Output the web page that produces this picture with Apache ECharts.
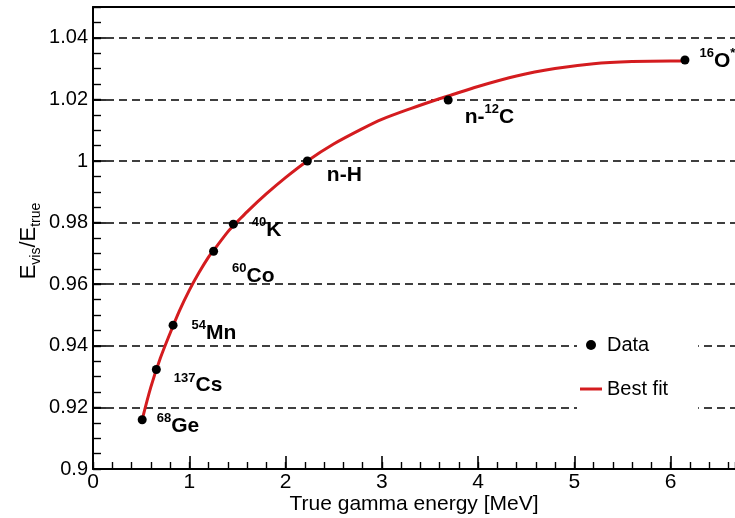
<!DOCTYPE html>
<html><head><meta charset="utf-8">
<script src="https://cdn.jsdelivr.net/npm/echarts@6/dist/echarts.min.js"></script>
<style>html,body{margin:0;padding:0;background:#fff}#c{width:735px;height:518px}</style>
</head><body><div id="c"></div>
<script>
// Data points
const energies = [0.511, 0.658, 0.832, 1.253, 1.458, 2.227, 3.69, 6.15];
const ratios   = [0.916, 0.9323, 0.9467, 0.9707, 0.9795, 1.000, 1.0198, 1.0328];
const sourceLabels = ['{s|68}{m|Ge}', '{s|137}{m|Cs}', '{s|54}{m|Mn}', '{s|60}{m|Co}',
                      '{s|40}{m|K}', '{m|n-H}', '{m|n-}{s|12}{m|C}', '{s|16}{m|O}{s|*}'];
// Best-fit curve samples
const fitX = [0.511, 0.6, 0.7, 0.8, 0.9, 1.0, 1.1, 1.2, 1.253, 1.4, 1.458, 1.5, 1.6, 1.8, 2.0, 2.227,
              2.5, 2.8, 3.0, 3.3, 3.56, 3.7, 4.0, 4.4, 4.8, 5.2, 5.6, 6.0, 6.13];
const fitY = [0.9160, 0.9265, 0.9360, 0.9440, 0.9515, 0.9580, 0.9637, 0.9688, 0.9710, 0.9770, 0.9790,
              0.9803, 0.9835, 0.9893, 0.9946, 1.0000, 1.0055, 1.0105, 1.0135, 1.0170, 1.0198, 1.0212,
              1.0242, 1.0276, 1.0300, 1.0316, 1.0323, 1.0325, 1.0325];
const yTickStep = 0.02, yMinorStep = 0.005, xTickStep = 1, xMinorStep = 0.2;
const xMin = 0, xMax = 6.67, yMin = 0.9, yMax = 1.05;

// label offsets (style)
const labelOffsets = [[5,6],[8,16],[9,8],[9,25],[9,6],[10,14],[7,17],[5,1]];

const FONT = 'Liberation Sans, Arial, Helvetica, sans-serif';
const RED = '#d41c1f';

const chart = echarts.init(document.getElementById('c'), null, {renderer: 'canvas'});
const pts = energies.map((x, i) => ({
  value: [x, ratios[i]],
  label: {formatter: sourceLabels[i], offset: labelOffsets[i]}
}));
const fitData = fitX.map((x, i) => [x, fitY[i]]);

const axBase = {type: 'value', min: xMin, max: xMax};
chart.setOption({
  animation: false,
  backgroundColor: '#fff',
  textStyle: {fontFamily: FONT},
  grid: {left: 93, right: 0, top: 7, bottom: 49, containLabel: false, outerBoundsMode: 'none'},
  xAxis: [
    Object.assign({}, axBase, {
      position: 'bottom', interval: xTickStep,
      name: 'True gamma energy [MeV]', nameLocation: 'middle', nameGap: 25, nameMoveOverlap: false,
      nameTextStyle: {fontSize: 21, color: '#000', fontFamily: FONT},
      axisLine: {show: true, onZero: false, lineStyle: {color: '#000', width: 2}},
      axisTick: {show: true, inside: true, length: 13, lineStyle: {color: '#000', width: 1.6}},
      axisLabel: {fontSize: 21, color: '#000', margin: 3, showMaxLabel: false, fontFamily: FONT},
      splitLine: {show: false}
    }),
    Object.assign({}, axBase, {
      position: 'bottom', interval: xMinorStep,
      axisLine: {show: false},
      axisTick: {show: true, inside: true, length: 7, lineStyle: {color: '#000', width: 1.4}},
      axisLabel: {show: false}, splitLine: {show: false}
    }),
    Object.assign({}, axBase, {
      position: 'top',
      axisLine: {show: true, onZero: false, lineStyle: {color: '#000', width: 2}},
      axisTick: {show: false}, axisLabel: {show: false}, splitLine: {show: false}
    })
  ],
  yAxis: [
    {
      type: 'value', min: yMin, max: yMax, interval: yTickStep, position: 'left',
      axisLine: {show: true, onZero: false, lineStyle: {color: '#000', width: 2}},
      axisTick: {show: true, inside: true, length: 13, lineStyle: {color: '#000', width: 1.6}},
      axisLabel: {fontSize: 20, color: '#000', margin: 5, showMaxLabel: false, fontFamily: FONT,
                  formatter: v => String(+(+v).toFixed(2))},
      splitLine: {show: true, showMinLine: false, showMaxLine: false,
                  lineStyle: {color: '#000', width: 1.6, type: [8, 5]}}
    },
    {
      type: 'value', min: yMin, max: yMax, interval: yMinorStep, position: 'left',
      axisLine: {show: false},
      axisTick: {show: true, inside: true, length: 8, lineStyle: {color: '#000', width: 1.4}},
      axisLabel: {show: false}, splitLine: {show: false}
    }
  ],
  legend: {
    data: [
      {name: 'Data', icon: 'circle', itemStyle: {color: '#000', opacity: 1}},
      {name: 'Best fit', icon: 'path://M0,0H22V3H0Z', itemStyle: {color: RED}}
    ],
    orient: 'vertical', left: 577, top: 323, symbolKeepAspect: true,
    backgroundColor: '#fff', padding: [12, 30, 10, 3],
    itemWidth: 22, itemHeight: 10, itemGap: 24,
    textStyle: {fontSize: 20, color: '#000', fontFamily: FONT}
  },
  graphic: [{
    type: 'text', x: 29, y: 241, rotation: Math.PI / 2, z: 100,
    style: {
      text: '{e|E}{s|vis}{e|/E}{s|true}', align: 'center', verticalAlign: 'middle',
      rich: {
        e: {fontSize: 22, lineHeight: 28, fill: '#000', fontFamily: FONT},
        s: {fontSize: 14, lineHeight: 14, verticalAlign: 'bottom', fill: '#000', fontFamily: FONT}
      }
    }
  }],
  series: [
    {
      name: 'Best fit', type: 'line', data: fitData, xAxisIndex: 0, yAxisIndex: 0,
      symbol: 'none', showSymbol: false, smooth: 0.3, z: 2,
      lineStyle: {color: RED, width: 3}, itemStyle: {color: RED}
    },
    {
      name: 'Data', type: 'scatter', data: pts, xAxisIndex: 0, yAxisIndex: 0,
      symbol: 'circle', symbolSize: 9, z: 3,
      itemStyle: {color: '#000', opacity: 1},
      label: {
        show: true, position: 'right', distance: 5, color: '#000',
        rich: {
          m: {fontSize: 21, fontWeight: 'bold', lineHeight: 28, color: '#000', fontFamily: FONT},
          s: {fontSize: 13, fontWeight: 'bold', lineHeight: 14, verticalAlign: 'top', color: '#000', fontFamily: FONT}
        }
      }
    }
  ]
});
</script>
</body></html>
